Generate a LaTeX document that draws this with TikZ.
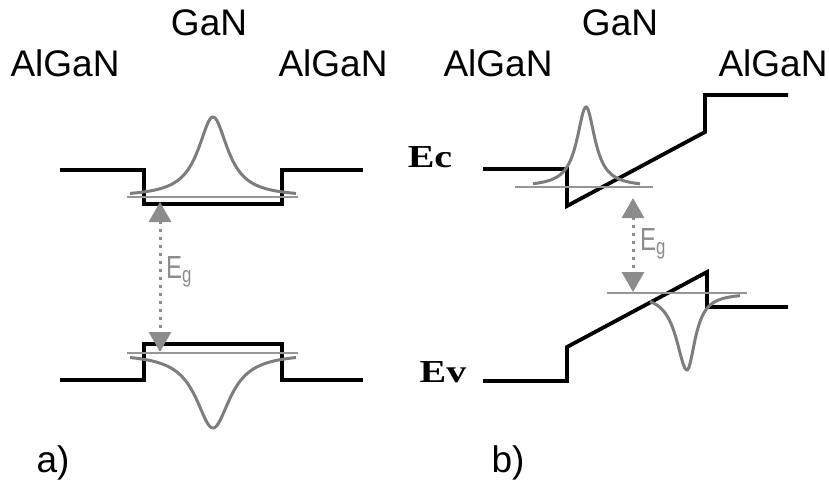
\documentclass[tikz,border=0pt]{standalone}
\usepackage{fontspec}
\setmainfont{Liberation Sans}
\newfontfamily\serifb{Liberation Serif}
\usetikzlibrary{arrows.meta}
\definecolor{wave}{RGB}{125,125,125}
\definecolor{levelc}{RGB}{150,150,150}
\definecolor{arrowgray}{RGB}{140,140,140}
\tikzset{
  band/.style={line width=3.8pt, black, line join=miter},
  lev/.style={line width=2.8pt, levelc},
  wf/.style={line width=3pt, wave},
  gap/.style={line width=3pt, arrowgray, dash pattern=on 3pt off 5pt,
    {Triangle[length=20pt,width=22pt]}-{Triangle[length=20pt,width=22pt]}},
  lbl/.style={font=\fontsize{37}{40}\selectfont, inner sep=0pt},
  elbl/.style={font=\serifb\bfseries\fontsize{32}{34}\selectfont, inner sep=0pt, xscale=1.25},
  eglbl/.style={font=\fontsize{32}{34}\selectfont, text=arrowgray, inner sep=0pt, anchor=west, xscale=0.75}
}
\begin{document}
\begin{tikzpicture}[x=1pt,y=-1pt]
\useasboundingbox (0,0) rectangle (829,485);
% labels
\node[lbl] (gana) at (209,23) {GaN};
\node[lbl] (alga1) at (65,63) {AlGaN};
\node[lbl] (alga2) at (333,63) {AlGaN};
\node[lbl] (ganb) at (620,23) {GaN};
\node[lbl] (algb1) at (498,63) {AlGaN};
\node[lbl] (algb2) at (773,63) {AlGaN};
\node[elbl] (ec) at (430,157) {Ec};
\node[elbl] (ev) at (443,372) {Ev};
\node[lbl] (pa) at (53,463) {a)};
\node[lbl] (pb) at (508,463) {b)};

% panel a
\draw[band] (60,170) -- (144,170) -- (144,204) -- (282,204) -- (282,170) -- (363,170);
\draw[band] (60,380) -- (144,380) -- (144,344) -- (282,344) -- (282,380) -- (363,380);
\draw[lev] (127,197) -- (298,197);
\draw[lev] (127,353) -- (298,353);
\draw[wf] plot[domain=130:296, samples=140, smooth] (\x, {197 - 80/(1+((\x-213)/18)^2)});
\draw[wf] plot[domain=130:296, samples=140, smooth] (\x, {353 + 75/(1+((\x-213)/21)^2)});
\coordinate (ga1) at (160,202);
\coordinate (ga2) at (160,352);
\draw[gap] (ga1) -- (ga2);
\node[eglbl] (ega) at (166,272) {E\textsubscript{g}};

% panel b
\draw[band] (483,169) -- (567,169) -- (567,206) -- (705,132) -- (705,95) -- (788,95);
\draw[band] (483,381) -- (567,381) -- (567,347) -- (707,272) -- (707,307) -- (788,307);
\draw[lev] (515,187) -- (653,187);
\draw[lev] (607,293) -- (747,293);
\draw[wf] plot[domain=533:640, samples=140, smooth] (\x, {187 - 80/(1+((\x-586)/11)^2)});
\draw[wf] plot[domain=650:687, samples=60, smooth] (\x, {293 + 77/(1+((\x-687)/13)^2)})
  -- plot[domain=687:740, samples=80, smooth] (\x, {293 + 77/(1+((\x-687)/10)^2)});
\coordinate (gb1) at (633,198);
\coordinate (gb2) at (633,292);
\draw[gap] (gb1) -- (gb2);
\node[eglbl] (egb) at (640,244) {E\textsubscript{g}};
\end{tikzpicture}
\end{document}
